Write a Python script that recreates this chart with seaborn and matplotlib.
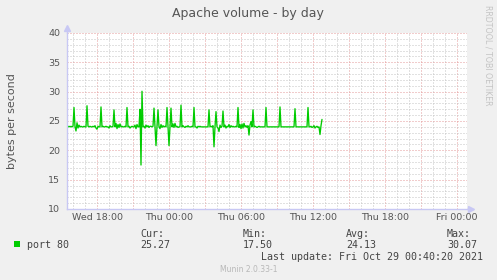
import numpy as np
import pandas as pd
import matplotlib
matplotlib.use("Agg")
import matplotlib.pyplot as plt
import seaborn as sns
from matplotlib.ticker import MultipleLocator

# ---------------- data ----------------
start_hour = 15.5          # first sample: Wed 15:30 (hours since Wed 00:00)
step_minutes = 5
port80 = [
    24.1, 24.0, 24.1, 24.0, 24.1, 24.0, 24.1, 27.3, 24.0, 23.3, 24.7, 23.8,
    24.3, 24.0, 24.1, 24.0, 24.0, 24.1, 24.0, 24.0, 27.6, 24.1, 24.0, 24.1,
    24.0, 24.0, 24.1, 24.0, 24.2, 23.8, 23.6, 24.1, 24.0, 24.0, 27.4, 24.0,
    24.1, 24.0, 24.0, 24.1, 24.0, 24.0, 23.8, 24.2, 24.0, 24.0, 24.1, 26.9,
    24.0, 24.6, 23.7, 24.4, 23.9, 24.5, 24.0, 24.1, 24.0, 24.0, 24.1, 24.0,
    27.3, 24.0, 24.1, 23.8, 24.0, 24.1, 24.0, 24.0, 24.3, 23.7, 24.4, 24.0,
    24.0, 27.0, 17.5, 30.07, 24.0, 24.1, 23.8, 24.3, 24.0, 24.2, 23.9, 24.1,
    24.1, 24.0, 24.1, 27.2, 24.0, 20.8, 24.1, 26.9, 24.0, 23.7, 24.4, 23.9,
    24.2, 24.0, 24.1, 24.0, 27.3, 24.0, 20.8, 24.0, 27.2, 24.0, 24.5, 23.9,
    24.6, 24.0, 24.1, 23.9, 24.0, 24.0, 27.7, 24.0, 24.2, 24.0, 23.9, 24.1,
    24.0, 24.2, 24.0, 24.0, 24.0, 24.1, 24.0, 27.3, 24.0, 24.0, 23.8, 24.1,
    24.0, 24.1, 24.0, 24.0, 24.0, 24.0, 24.0, 24.0, 24.0, 24.0, 26.9, 24.0,
    24.1, 24.0, 24.2, 20.6, 24.0, 26.6, 24.0, 23.8, 23.2, 24.3, 23.9, 24.1,
    26.7, 24.0, 24.3, 23.8, 24.1, 24.0, 24.4, 23.9, 24.2, 24.0, 24.1, 24.0,
    24.0, 24.1, 24.0, 27.3, 23.9, 24.4, 23.7, 24.5, 23.8, 24.6, 24.0, 24.2,
    23.9, 24.2, 22.6, 24.3, 24.9, 24.0, 26.9, 24.0, 24.1, 24.0, 23.9, 24.0,
    24.1, 24.0, 24.0, 24.0, 24.0, 24.0, 24.0, 27.3, 24.0, 24.0, 24.0, 24.0,
    24.0, 24.0, 24.0, 24.0, 24.0, 24.0, 24.0, 24.0, 24.0, 27.4, 24.0, 24.0,
    24.0, 24.0, 24.0, 24.0, 24.0, 24.0, 24.0, 24.0, 24.0, 24.0, 24.0, 24.0,
    27.1, 24.0, 24.0, 24.0, 24.0, 24.0, 24.0, 24.0, 24.0, 24.0, 24.0, 24.0,
    24.0, 27.3, 24.0, 24.0, 24.1, 23.9, 24.0, 24.2, 23.8, 24.0, 24.1, 23.9,
    24.0, 22.7, 24.2, 25.27,
]
tick_hours = [18, 24, 30, 36, 42, 48]
tick_labels = ["Wed 18:00", "Thu 00:00", "Thu 06:00", "Thu 12:00", "Thu 18:00", "Fri 00:00"]
y_ticks = [10, 15, 20, 25, 30, 35, 40]
series_name = "port 80"
stat_names = ["Cur:", "Min:", "Avg:", "Max:"]
stat_values = ["25.27", "17.50", "24.13", "30.07"]
title = "Apache volume - by day"
y_label = "bytes per second"
last_update = "Last update: Fri Oct 29 00:40:20 2021"
footer = "Munin 2.0.33-1"
side_note = "RRDTOOL / TOBI OETIKER"

# ---------------- figure ----------------
W, H = 497, 280
sns.set_style("white")
plt.rcParams["font.family"] = ["DejaVu Sans"]

fig = plt.figure(figsize=(W / 100, H / 100), dpi=100, facecolor="#F0F0F0")
ax = fig.add_axes([67 / W, 71 / H, 400 / W, 176 / H], facecolor="white")

hours = start_hour + np.arange(len(port80)) * step_minutes / 60.0
df = pd.DataFrame({"hour": hours, "value": port80})
sns.lineplot(data=df, x="hour", y="value", color="#00CC00", linewidth=0.95, ax=ax)

ax.set_xlim(start_hour, start_hour + 400 * step_minutes / 60.0)
ax.set_ylim(min(y_ticks), max(y_ticks))

# x ticks: red grid every 3 h, labels every 6 h
major_x = list(range(18, 49, 3))
lab_map = dict(zip(tick_hours, tick_labels))
ax.set_xticks(major_x)
ax.set_xticklabels([lab_map.get(h, "") for h in major_x])
ax.xaxis.set_minor_locator(MultipleLocator(1))
ax.set_yticks(y_ticks)
ax.set_yticklabels([str(v) for v in y_ticks])
ax.yaxis.set_minor_locator(MultipleLocator(1))

ax.grid(which="major", color="#e49a9a", linestyle=(0, (1, 2)), linewidth=0.72)
ax.grid(which="minor", color="#c4c4c4", linestyle=(0, (1, 2)), linewidth=0.72)
ax.set_axisbelow(True)

ax.tick_params(which="both", length=0)
ax.tick_params(axis="y", pad=5, labelsize=6.8, labelcolor="#555555")
ax.tick_params(axis="x", pad=3, labelsize=6.8, labelcolor="#555555")

for s in ["top", "right"]:
    ax.spines[s].set_visible(False)
for s in ["left", "bottom"]:
    ax.spines[s].set_color("#c8c8f4")
    ax.spines[s].set_linewidth(1.0)

# axis arrows
ax.plot([0, 0], [1, 1.025], color="#c8c8f4", lw=1.0, transform=ax.transAxes, clip_on=False)
ax.plot([0], [1.03], marker="^", ms=4, color="#c8c8f4", transform=ax.transAxes, clip_on=False)
ax.plot([1, 1.006], [0, 0], color="#c8c8f4", lw=1.0, transform=ax.transAxes, clip_on=False)
ax.plot([1.009], [0], marker=">", ms=4, color="#c8c8f4", transform=ax.transAxes, clip_on=False)

ax.set_xlabel("")
ax.set_ylabel("")

# ---------------- texts ----------------
def fx(px):
    return px / W

def fy(py):
    return 1 - py / H

fig.text(fx(248), fy(13), title, ha="center", va="center", fontsize=9, color="#555555")
fig.text(fx(12), fy(121), y_label, ha="center", va="center", rotation=90,
         fontsize=8, color="#555555")
fig.text(fx(488), fy(5), side_note, ha="center", va="top", rotation=270,
         fontsize=5.7, color="#c4c4c4")

mono = "DejaVu Sans Mono"
fig.patches.append(plt.Rectangle((fx(14), fy(247)), 6 / W, 6 / H, transform=fig.transFigure,
                                 facecolor="#00CC00", edgecolor="none"))
fig.text(fx(27), fy(248), series_name, ha="left", va="baseline", fontsize=7.2,
         family=mono, color="#444444")
stat_x = [140, 243, 346, 447]
for x, n, v in zip(stat_x, stat_names, stat_values):
    fig.text(fx(x), fy(237), n, ha="left", va="baseline", fontsize=7.2, family=mono, color="#444444")
    fig.text(fx(x), fy(248), v, ha="left", va="baseline", fontsize=7.2, family=mono, color="#444444")
fig.text(fx(483), fy(260), last_update, ha="right", va="baseline", fontsize=7.2,
         family=mono, color="#444444")
fig.text(fx(248.5), fy(272), footer, ha="center", va="baseline", fontsize=5.5, color="#b8b8b8")

fig.savefig("out.png", dpi=100, facecolor=fig.get_facecolor())
